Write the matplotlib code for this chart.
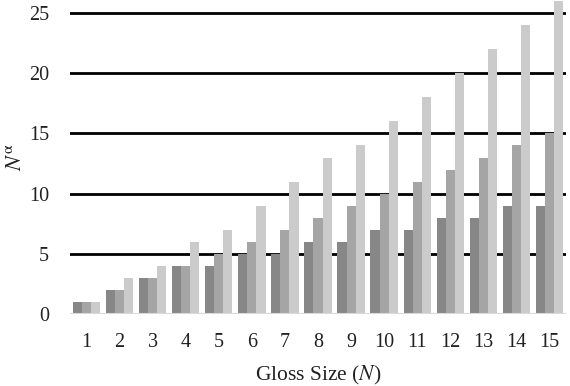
import numpy as np
import matplotlib
matplotlib.use("Agg")
import matplotlib.pyplot as plt

plt.rcParams['font.family'] = ['Liberation Serif', 'DejaVu Serif']
plt.rcParams['mathtext.fontset'] = 'stix'

# gloss sizes and the three series
gloss_size = [1, 2, 3, 4, 5, 6, 7, 8, 9, 10, 11, 12, 13, 14, 15]
series_dark = [1, 2, 3, 4, 4, 5, 5, 6, 6, 7, 7, 8, 8, 9, 9]
series_mid = [1, 2, 3, 4, 5, 6, 7, 8, 9, 10, 11, 12, 13, 14, 15]
series_light = [1, 3, 4, 6, 7, 9, 11, 13, 14, 16, 18, 20, 22, 24, 26]

colors = ['#878787', '#a5a5a5', '#cbcbcb']

fig = plt.figure(figsize=(5.7, 3.86), dpi=100)
ax = fig.add_axes([70 / 570, 1 - 314 / 386, 496 / 570, 313 / 386])

x = np.arange(len(gloss_size))
w = 0.275
for i, (vals, c) in enumerate(zip([series_dark, series_mid, series_light], colors)):
    ax.bar(x + (i - 1) * w, vals, width=w, color=c, zorder=3)

ax.set_xlim(-0.5, len(gloss_size) - 0.5)
ax.set_ylim(0, 26)
ax.set_yticks([0, 5, 10, 15, 20, 25])
ax.set_xticks(x)
ax.set_xticklabels([str(g) for g in gloss_size])

# black gridlines, pale baseline
for yv in [5, 10, 15, 20, 25]:
    ax.axhline(yv, color='black', lw=2, zorder=2)
ax.axhline(0, color='#d9d9d9', lw=1.5, zorder=4)

for s in ax.spines.values():
    s.set_visible(False)
ax.tick_params(length=0, labelsize=14.5, colors='#222222')
ax.tick_params(axis='y', pad=15)
ax.tick_params(axis='x', pad=14)

ax.set_xlabel(r'Gloss Size ($N$)', fontsize=15.5, color='#222222', labelpad=8)
ax.set_ylabel(r'$N^{\mathrm{\alpha}}$', fontsize=16, color='#222222', labelpad=2)

fig.savefig('out.png', dpi=100)
